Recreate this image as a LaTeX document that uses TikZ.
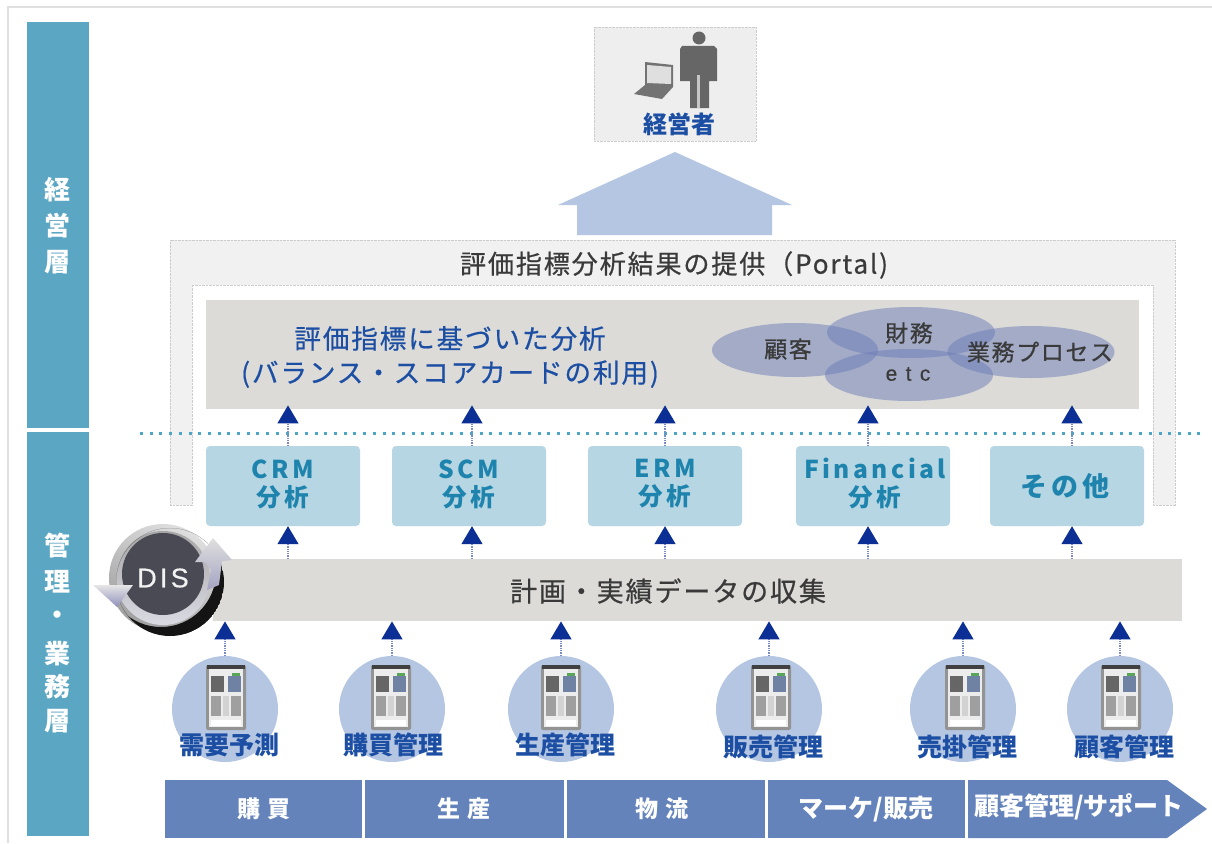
\documentclass[tikz,border=0pt]{standalone}
\usepackage{fontspec}
\setmainfont{Noto Sans CJK JP}
\newfontfamily\jpl[LetterSpace=7,FakeBold=0.6]{Noto Sans CJK JP}
\newfontfamily\jps[LetterSpace=14]{Noto Sans CJK JP}
\newfontfamily\jpw[LetterSpace=28]{Noto Sans CJK JP}
\newfontfamily\latin[LetterSpace=12,FakeBold=0.4]{Liberation Sans}
\usetikzlibrary{arrows.meta,calc,shapes.geometric}
\definecolor{sidec}{HTML}{5BA6C2}
\definecolor{grayp}{HTML}{DCDBD8}
\definecolor{lblue}{HTML}{B6D6E3}
\definecolor{teal}{HTML}{1F84AD}
\definecolor{navy}{HTML}{0B2F94}
\definecolor{txtblue}{HTML}{1C4FA3}
\definecolor{stage}{HTML}{6483BB}
\definecolor{circ}{HTML}{B5C6E2}
\definecolor{dots}{HTML}{4FA5C4}
\definecolor{txtgray}{HTML}{3A3A3A}
\definecolor{ovalc}{HTML}{6C7DB8}
\definecolor{disc}{HTML}{4A4A55}
\definecolor{framec}{HTML}{F1F1F1}
\tikzset{
 x=1pt,y=-1pt,
 sidebar/.style={fill=sidec,draw=none,minimum width=62pt,inner sep=0pt},
 sidetxt/.style={text=white,font=\fontsize{26}{28}\selectfont\bfseries,align=center,inner sep=0pt},
 analysis/.style={fill=lblue,draw=none,rounded corners=4pt,minimum width=154pt,minimum height=80pt,inner sep=0pt},
 analysistxt/.style={text=teal,font=\jps\fontsize{24.6}{28}\selectfont\bfseries,inner sep=0pt,align=center},
 graybar/.style={fill=grayp,draw=none,inner sep=0pt},
 bartxt/.style={text=txtgray,font=\jpl\fontsize{27}{30}\selectfont,inner sep=0pt,align=center},
 paneltxt/.style={text=txtblue,font=\jpl\fontsize{26.6}{34}\selectfont,inner sep=0pt,align=center},
 sys/.style={circle,fill=circ,draw=none,minimum size=106pt,inner sep=0pt},
 systxt/.style={text=txtblue,font=\fontsize{25}{27}\selectfont\bfseries,inner sep=0pt},
 stagebox/.style={fill=stage,draw=none,minimum height=58pt,inner sep=0pt},
 stagetxt/.style={text=white,font=\fontsize{25}{27}\selectfont\bfseries,inner sep=0pt},
 oval/.style={ellipse,fill=ovalc,fill opacity=.5,draw=none,inner sep=0pt},
 ovaltxt/.style={text=txtgray,font=\jpl\fontsize{23}{25}\selectfont,inner sep=0pt},
 flow/.style={navy!55,densely dotted,line width=1.3pt,-{Triangle[length=18pt,width=21pt,color=navy]}},
}
\newcommand{\srv}[2]{%
 \begin{scope}[shift={(#1,#2)}]
  \fill[fill=gray!85,rounded corners=2pt] (-20,-32) rectangle (20,33);
  \fill[black!75] (-19,-32) rectangle (19,-28);
  \fill[gray!15] (-17,-28) rectangle (17,30);
  \fill[black!60] (-15,-21) rectangle (-2,-5);
  \fill[stage!60!gray] (2,-21) rectangle (15,-5);
  \fill[green!30!gray] (6,-24) rectangle (14,-21);
  \fill[gray!75] (-15,-1) rectangle (-5,19);
  \fill[gray!35] (-3,-1) rectangle (3,19);
  \fill[gray!75] (5,-1) rectangle (15,19);
  \fill[white] (-15,23) rectangle (15,29);
 \end{scope}}
\begin{document}
\begin{tikzpicture}
\useasboundingbox (0,0) rectangle (1212,843);
\fill[white] (0,0) rectangle (1212,843);
% page edges
\draw[gray!25,line width=1.5pt] (8,843) -- (8,7) -- (1212,7);
% side bars
\node[sidebar,minimum height=406pt,anchor=north west] (sideTop) at (27,22) {};
\node[sidebar,minimum height=404pt,anchor=north west] (sideBot) at (27,432) {};
\node[sidetxt] (s1) at (57,190) {経};
\node[sidetxt] (s2) at (57,226) {営};
\node[sidetxt] (s3) at (57,262) {層};
\node[sidetxt] (s4) at (57,546) {管};
\node[sidetxt] (s5) at (57,582) {理};
\node[sidetxt] (s6) at (57,618) {・};
\node[sidetxt] (s7) at (57,654) {業};
\node[sidetxt] (s8) at (57,687) {務};
\node[sidetxt] (s9) at (57,721) {層};
% top box
\node[fill=gray!13,draw=gray!40,densely dotted,minimum width=162pt,minimum height=114pt,inner sep=0pt] (exec) at (675,84) {};
\fill[black!60] (699,38) circle (6.5);
\fill[black!60] (682,46) -- (714,46) -- (717,49) -- (717,81) -- (709,81) -- (709,108) -- (690,108) -- (690,81) -- (680,81) -- (680,49) -- cycle;
\fill[gray!45] (697,75) rectangle (700,108);
\fill[black!55] (645,62) -- (673,65) -- (673,87) -- (662,99) -- (634,94) -- (645,85) -- cycle;
\fill[gray!25] (647,65) -- (671,67) -- (671,84) -- (647,83) -- cycle;
\node[text=txtblue,font=\fontsize{24}{26}\selectfont\bfseries,inner sep=0pt] (execT) at (679,124) {経営者};
% big arrow
\fill[circ] (675,152) -- (792,205) -- (772,205) -- (772,235) -- (577,235) -- (577,205) -- (558,205) -- cycle;
% portal frame
\node[fill=framec,draw=none,minimum width=1005pt,minimum height=265pt,inner sep=0pt,anchor=north west] (portal) at (170,240) {};
\node[fill=white,draw=none,minimum width=961pt,minimum height=220pt,inner sep=0pt,anchor=north west] (portalIn) at (192,285) {};
\draw[gray!40,densely dotted] (portal.south west) -- (portal.north west) -- (portal.north east) -- (portal.south east) -- (portalIn.south east) -- (portalIn.north east) -- (portalIn.north west) -- (portalIn.south west) -- cycle;
\node[text=txtgray,font=\jpl\fontsize{26.1}{28}\selectfont,inner sep=0pt] (portalT) at (674,265) {評価指標分析結果の提供（Portal)};
% analysis panel
\node[graybar,minimum width=933pt,minimum height=109pt,anchor=north west] (panel) at (206,300) {};
\node[paneltxt] (panelT) at (450,357) {評価指標に基づいた分析\\(バランス・スコアカードの利用)};
\node[oval,minimum width=166pt,minimum height=54pt] (o1) at (795,350) {};
\node[oval,minimum width=168pt,minimum height=51pt] (o2) at (911,332.5) {};
\node[oval,minimum width=168pt,minimum height=52pt] (o3) at (909,375) {};
\node[oval,minimum width=167pt,minimum height=52pt] (o4) at (1031,352) {};
\node[ovaltxt] (o1T) at (788,349) {顧客};
\node[ovaltxt] (o2T) at (909,333) {財務};
\node[text=txtgray,font=\latin\fontsize{21}{24}\selectfont,inner sep=0pt] (o3T) at (908,374) {e t c};
\node[ovaltxt] (o4T) at (1040,352) {業務プロセス};
% dotted divider
\coordinate (divL) at (140,433);
\coordinate (divR) at (1200,433);
\draw[dots,line width=3pt,dash pattern=on 3pt off 6.7pt] (divL) -- (divR);
% analysis boxes
\node[analysis] (crm) at (283,486) {};
\node[analysis] (scm) at (469,486) {};
\node[analysis] (erm) at (665,486) {};
\node[analysis] (fin) at (873,486) {};
\node[analysis] (oth) at (1067,486) {};
\node[analysistxt] (crmT) at (283,484) {CRM\\分析};
\node[analysistxt] (scmT) at (469,484) {SCM\\分析};
\node[analysistxt] (ermT) at (665,484) {ERM\\分析};
\node[analysistxt] (finT) at (875,484) {Financial\\分析};
\node[analysistxt,font=\jps\fontsize{27}{30}\selectfont\bfseries] (othT) at (1065,486) {その他};
% data bar
\node[graybar,minimum width=969pt,minimum height=62pt,anchor=north west] (bar) at (213,559) {};
\node[bartxt] (barT) at (668,591) {計画・実績データの収集};
% DIS disc
\shade[top color=gray!25,bottom color=gray!75,shading angle=-30] (163,578) circle (54);
\shade[top color=gray!70,bottom color=blue!15!gray!25] (163,578) circle (47);
\begin{scope}
 \clip (170,582) circle (54);
 \fill[black!92,even odd rule] (170,582) circle (54) (161,572) circle (55);
\end{scope}
\fill[disc] (163,574) circle (41);
\shade[top color=gray!20,bottom color=blue!25!gray!70] (93,585) -- (133,585) -- (117,607) -- cycle;
\shade[top color=gray!25,bottom color=blue!20!gray!60] (213,538) -- (232,560) -- (222,561) -- (219,585) -- (207,590) -- (211,570) -- (205,562) -- (195,562) -- cycle;
\node[text=white!90!gray,font=\latin\fontsize{27}{28}\selectfont,inner sep=0pt] (dis) at (163,578) {DIS};
% system circles
\node[sys] (c1) at (225,709) {};
\node[sys] (c2) at (392,709) {};
\node[sys] (c3) at (561,709) {};
\node[sys] (c4) at (769,709) {};
\node[sys] (c5) at (963,709) {};
\node[sys] (c6) at (1120,709) {};
\srv{226}{697}\srv{391}{697}\srv{561}{697}\srv{771}{697}\srv{965}{697}\srv{1121}{697}
\node[systxt] (c1T) at (229,745) {需要予測};
\node[systxt] (c2T) at (393,745) {購買管理};
\node[systxt] (c3T) at (565,745) {生産管理};
\node[systxt] (c4T) at (773,747) {販売管理};
\node[systxt] (c5T) at (967,747) {売掛管理};
\node[systxt] (c6T) at (1124,747) {顧客管理};
% value chain
\node[stagebox,minimum width=197pt,anchor=north west] (st1) at (165,780) {};
\node[stagebox,minimum width=199pt,anchor=north west] (st2) at (365,780) {};
\node[stagebox,minimum width=198pt,anchor=north west] (st3) at (567,780) {};
\node[stagebox,minimum width=197pt,anchor=north west] (st4) at (768,780) {};
\fill[stage] (968,780) -- (1167,780) -- (1207,809) -- (1167,838) -- (968,838) -- cycle;
\node[stagetxt,font=\jpw\fontsize{23}{25}\selectfont\bfseries] (st1T) at (264,809) {購買};
\node[stagetxt,font=\jpw\fontsize{23}{25}\selectfont\bfseries] (st2T) at (464,809) {生産};
\node[stagetxt,font=\jpw\fontsize{23}{25}\selectfont\bfseries] (st3T) at (662,809) {物流};
\node[stagetxt] (st4T) at (866,809) {マーケ/販売};
\node[stagetxt] (st5T) at (1079,807) {顧客管理/サポート};
% arrows: analysis boxes to panel
\foreach \n/\dx in {crm/5,scm/3,erm/0,fin/-5,oth/5}{
 \draw[flow,shorten >=-4pt] ([xshift=\dx pt]\n.north) -- ([xshift=\dx pt]\n.north |- panel.south);
 \draw[flow] ([xshift=\dx pt]\n.south |- bar.north) -- ([xshift=\dx pt]\n.south);
}
% arrows: systems to bar
\foreach \n in {c1,c2,c3,c4,c5,c6}{
 \draw[flow] (\n.north) -- (\n.north |- bar.south);
}
\end{tikzpicture}
\end{document}
